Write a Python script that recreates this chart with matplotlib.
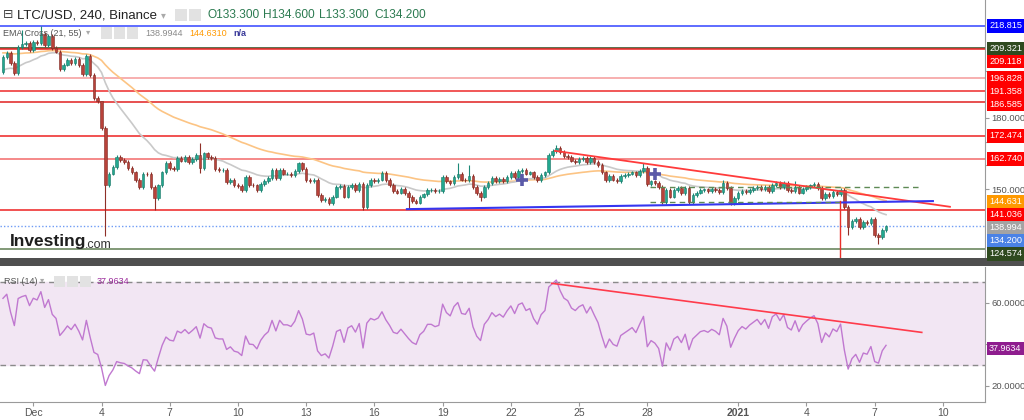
import numpy as np
import matplotlib.pyplot as plt
from matplotlib.patches import Rectangle

plt.rcParams['font.family'] = ['Liberation Sans', 'DejaVu Sans']

W, H = 1024, 420

# LTC/USD 4h closes, Binance, 29 Nov 16:00 -> 7 Jan 12:00
closes = [
    205.8, 207.4, 203.0, 199.0, 210.0, 211.0, 211.6, 208.6, 212.0, 211.5,
    215.5, 210.8, 214.5, 209.5, 208.0, 200.8, 202.5, 204.5, 203.0, 205.0,
    202.3, 198.5, 206.0, 198.0, 188.5, 187.0, 175.7, 151.7, 156.5, 159.3,
    163.5, 162.2, 161.5, 159.0, 157.0, 153.8, 151.0, 156.5, 156.2, 151.0,
    146.2, 151.5, 157.0, 161.0, 159.0, 158.5, 163.0, 162.0, 163.5, 161.5,
    162.8, 164.3, 159.0, 165.0, 163.5, 163.0, 158.5, 158.0, 158.0, 153.0,
    153.8, 151.7, 151.2, 149.6, 155.2, 151.7, 151.5, 149.6, 152.0, 153.5,
    154.5, 158.0, 154.5, 158.0, 156.5, 156.5, 156.0, 157.5, 160.8, 158.5,
    153.8, 153.5, 154.0, 147.5, 145.4, 145.8, 144.0, 146.8, 150.7, 151.2,
    146.8, 151.0, 151.7, 149.6, 152.2, 142.5, 151.7, 153.8, 153.2, 154.0,
    156.6, 153.8, 151.7, 149.0, 148.5, 149.9, 148.2, 146.5, 145.0, 144.3,
    146.8, 147.7, 149.6, 149.6, 149.0, 149.3, 155.2, 153.2, 152.4, 155.2,
    156.5, 154.0, 153.8, 155.5, 151.0, 148.2, 146.8, 151.0, 152.4, 154.5,
    153.5, 154.2, 153.5, 155.2, 156.6, 155.0, 157.5, 158.0, 156.5, 157.0,
    155.0, 153.8, 156.0, 157.0, 164.5, 166.0, 167.5, 165.5, 164.0, 163.5,
    162.0, 161.5, 162.5, 163.0, 161.5, 163.0, 161.5, 160.0, 157.0, 153.8,
    155.5, 154.0, 153.5, 155.5, 156.0, 156.5, 157.0, 156.0, 157.5, 159.0,
    152.0, 153.2, 152.5, 151.0, 144.6, 149.6, 146.8, 149.6, 150.3, 148.2,
    150.3, 144.6, 147.5, 148.5, 149.5, 149.8, 149.3, 150.0, 149.5, 148.6,
    152.4, 150.5, 144.0, 146.2, 148.2, 149.3, 148.6, 149.6, 150.3, 151.0,
    149.8, 151.0, 149.0, 151.7, 152.4, 151.0, 152.4, 149.6, 149.0, 151.0,
    148.5, 150.0, 150.8, 151.5, 152.0, 150.5, 146.1, 148.0, 147.0, 148.6,
    148.0, 149.5, 142.5, 134.1, 136.5, 137.5, 133.8, 136.0, 135.5, 137.3,
    130.6, 129.8, 132.8, 134.2,
]
first_open = 199.5
last_t = 37.5  # days after 1 Dec

highs_extra = {5: 217.0, 10: 218.8, 26: 181.0, 52: 169.4, 120: 161.0, 123: 160.0,
               146: 168.5, 169: 161.0, 190: 153.8, 209: 153.5}
lows_extra = {27: 130.3, 40: 141.0, 52: 156.7, 95: 141.2, 107: 141.5, 126: 145.0,
              223: 130.5, 231: 127.0}

ema21_start, ema55_start = 199.5, 207.5
rsi_gain0, rsi_loss0 = 1.0, 0.9

levels = [218.815, 209.321, 209.118, 196.828, 191.358, 186.585, 172.474, 162.740, 141.036, 124.574]
level_line_colors = ['#3344ff', '#2f4a1f', '#ee2222', '#f59a9a', '#ee2a2a', '#e02020',
                     '#ee2222', '#f26a6a', '#ee2222', '#5f7d52']
level_tag_colors = ['#0000ff', '#2f4a1f', '#ff0000', '#ff0000', '#ff0000', '#ff0000',
                    '#ff0000', '#ff0000', '#ff0000', '#2f4a1f']
ema21_last, ema55_last, rsi_last = 138.9944, 144.6310, 37.9634
o_h_l_c = [133.300, 134.600, 133.300, 134.200]

price_ticks = [150, 160, 170, 180, 200]
price_tick_shown = [150, 180]      # the others sit under value tags
rsi_ticks = [20, 40, 60]
rsi_tick_shown = [20, 60]

tick_days = [0, 3, 6, 9, 12, 15, 18, 21, 24, 27, 31, 34, 37, 40]
tick_names = ['Dec', '4', '7', '10', '13', '16', '19', '22', '25', '28', '2021', '4', '7', '10']

# drawings (day, value)
res_line = [(22.94, 166.1), (40.31, 142.5)]
sup_line = [(16.43, 141.5), (39.56, 144.9)]
box_top = [(27.12, 151.0), (39.08, 151.0)]
box_bot = [(27.12, 144.6), (35.60, 144.6)]
drop_mark = (35.47, 145.0)
rsi_line = [(22.80, 69.5), (39.07, 45.8)]

# ---- derived series
n = len(closes)
t = np.array([last_t - (n - 1 - i) / 6 for i in range(n)])
c = np.array(closes)
o = np.concatenate([[first_open], c[:-1]])
hi = np.maximum(o, c) + 0.8
lo = np.minimum(o, c) - 0.8
for k, v in highs_extra.items():
    hi[k] = v
for k, v in lows_extra.items():
    lo[k] = v

def ema(vals, span, start):
    a = 2 / (span + 1)
    out, e = [], start
    for v in vals:
        e = a * v + (1 - a) * e
        out.append(e)
    return np.array(out)

e21 = ema(c, 21, ema21_start)
e55 = ema(c, 55, ema55_start)

rsi = []
ag, al, prev = rsi_gain0, rsi_loss0, first_open
for v in c:
    d = v - prev
    ag = (ag * 13 + max(d, 0)) / 14
    al = (al * 13 + max(-d, 0)) / 14
    rsi.append(100 - 100 / (1 + ag / al))
    prev = v
rsi = np.array(rsi)

# ---- figure
fig = plt.figure(figsize=(W / 100, H / 100), dpi=100)
fig.patch.set_facecolor('white')
xmin, xmax = -33.3 / 22.74, (985 - 33.3) / 22.74

ax = fig.add_axes([0, 1 - 258 / H, 985 / W, 258 / H])
axr = fig.add_axes([0, 1 - 402 / H, 985 / W, 135 / H])

ax.set_xlim(xmin, xmax)
ax.set_ylim(150 - 69 / 2.37, 150 + 189 / 2.37)
axr.set_xlim(xmin, xmax)
axr.set_ylim(60 - 99 / 2.07, 60 + 36 / 2.07)

for a in (ax, axr):
    for s in ('top', 'left', 'bottom'):
        a.spines[s].set_visible(False)
    a.spines['right'].set_color('#9a9a9a')
    a.yaxis.tick_right()
    a.tick_params(axis='y', colors='#9a9a9a', labelcolor='#555555', labelsize=6.8,
                  length=3, pad=1.5)
ax.set_xticks([])
ax.set_yticks(price_ticks)
ax.set_yticklabels(['%.3f' % v if v in price_tick_shown else '' for v in price_ticks])
axr.spines['bottom'].set_visible(True)
axr.spines['bottom'].set_color('#9a9a9a')
axr.set_yticks(rsi_ticks)
axr.set_yticklabels(['%.4f' % v if v in rsi_tick_shown else '' for v in rsi_ticks])
axr.set_xticks(tick_days)
axr.set_xticklabels(tick_names)
axr.tick_params(axis='x', colors='#9a9a9a', labelcolor='#555555', labelsize=7.5, length=3, pad=1)
for lbl in axr.get_xticklabels():
    if lbl.get_text() == '2021':
        lbl.set_fontweight('bold')

# horizontal levels
for v, col in zip(levels, level_line_colors):
    ax.axhline(v, color=col, lw=1.1, zorder=1)
ax.axhline(c[-1], color='#6f9cf5', lw=1, ls=(0, (1, 1.5)), zorder=1)

# EMAs
ax.plot(t, e55, color='#fcc484', lw=1.2, zorder=2)
ax.plot(t, e21, color='#c9c9c9', lw=1.2, zorder=2)

# candles
up = c >= o
bw = 0.11
ax.vlines(t[up], lo[up], hi[up], color='#1c8a78', lw=0.8, zorder=3)
ax.vlines(t[~up], lo[~up], hi[~up], color='#8f2f27', lw=0.8, zorder=3)
ax.bar(t[up], c[up] - o[up], bottom=o[up], width=bw, color='#22a88f',
       edgecolor='#1b7566', lw=0.4, zorder=4)
ax.bar(t[~up], o[~up] - c[~up], bottom=c[~up], width=bw, color='#b8423a',
       edgecolor='#7d2b24', lw=0.4, zorder=4)

# EMA cross markers
sgn = np.sign(e21 - e55)
for i in range(1, n):
    if sgn[i] != sgn[i - 1] and i > 40:
        ax.plot(t[i], (e21[i] + e55[i]) / 2, marker='+', ms=9, mew=2.6,
                color='#5b5aa8', zorder=6)

# drawings
ax.plot(*zip(*res_line), color='#ff3b3b', lw=1.3, zorder=5)
ax.plot(*zip(*sup_line), color='#3535f0', lw=1.5, zorder=5)
ax.plot(*zip(*box_top), color='#5e8a55', lw=1, ls=(0, (4, 3)), zorder=5)
ax.plot(*zip(*box_bot), color='#5e8a55', lw=1, ls=(0, (4, 3)), zorder=5)
ax.plot([drop_mark[0]] * 2, [drop_mark[1], 110], color='#e8302a', lw=1, zorder=5)

# RSI pane
axr.axhspan(30, 70, color='#f2e6f3', zorder=0)
axr.axhline(70, color='#8a8a8a', lw=1, ls=(0, (4, 3)), zorder=1)
axr.axhline(30, color='#8a8a8a', lw=1, ls=(0, (4, 3)), zorder=1)
axr.plot(t, rsi, color='#c078d0', lw=1, zorder=3)
axr.plot(*zip(*rsi_line), color='#ff3b4b', lw=1.2, zorder=4)

# separator bar
fig.add_artist(Rectangle((0, 1 - 266 / H), 1, 8 / H, transform=fig.transFigure,
                         color='#4f4f4f', lw=0))

# right-hand value tags with simple de-overlap
tags = [(v, col) for v, col in zip(levels, level_tag_colors)]
tags += [(ema55_last, '#ff9900'), (ema21_last, '#a3a3a3'), (c[-1], '#4a82e6')]
tags.sort(key=lambda x: -x[0])
prev_y = -100
for v, col in tags:
    y_top = H - ax.transData.transform((0, v))[1]
    y_top = max(y_top, prev_y + 13)
    prev_y = y_top
    fig.text(989 / W, 1 - y_top / H, '%.3f' % v, color='white', fontsize=6.6,
             va='center', ha='left',
             bbox=dict(boxstyle='square,pad=0.25', fc=col, ec='none'))
fig.text(989 / W, 1 - (H - axr.transData.transform((0, rsi_last))[1]) / H,
         '%.4f' % rsi_last, color='white', fontsize=6.4, va='center', ha='left',
         bbox=dict(boxstyle='square,pad=0.25', fc='#8e1d8e', ec='none'))

# header texts
def ftxt(x, y, s, **kw):
    fig.text(x / W, 1 - y / H, s, va='center', ha='left', **kw)

def icon(x, y, w=11, h=11):
    fig.add_artist(Rectangle((x / W, 1 - (y + h / 2) / H), w / W, h / H,
                             transform=fig.transFigure, color='#e2e2e2', lw=0))

ftxt(3, 15, '⊟', fontsize=9, color='#444444')
ftxt(17, 15, 'LTC/USD, 240, Binance', fontsize=9.5, color='#222222')
ftxt(161, 15, '▾', fontsize=7, color='#aaaaaa')
icon(175, 15, 12, 12)
icon(189, 15, 12, 12)
for x0, lab, val in zip([207, 263, 319, 374], 'OHLC', o_h_l_c):
    ftxt(x0, 15, '%s%.3f' % (lab, val), fontsize=8.6, color='#2b7a50')

ftxt(3, 33, 'EMA Cross (21, 55)', fontsize=6.5, color='#555555')
ftxt(86, 33, '▾', fontsize=6, color='#aaaaaa')
for x0 in (101, 114, 127):
    icon(x0, 33, 11, 11)
ftxt(145, 33, '%.4f' % ema21_last, fontsize=6.5, color='#8a8a8a')
ftxt(189, 33, '%.4f' % ema55_last, fontsize=6.5, color='#ff9900')
ftxt(233, 33, 'n/a', fontsize=6.5, color='#3a3a9a', fontweight='bold')

ftxt(4, 281, 'RSI (14)', fontsize=6.5, color='#555555')
ftxt(40, 281, '▾', fontsize=6, color='#aaaaaa')
for x0 in (54, 67, 80):
    icon(x0, 281, 11, 11)
ftxt(97, 281, '%.4f' % rsi_last, fontsize=6.5, color='#9a2a9a')

ftxt(10, 242, 'Investing', fontsize=12.5, fontweight='bold', color='#1e1e1e')
ftxt(85, 245, '.com', fontsize=9, color='#333333')

fig.savefig('out.png', dpi=100, facecolor='white')
